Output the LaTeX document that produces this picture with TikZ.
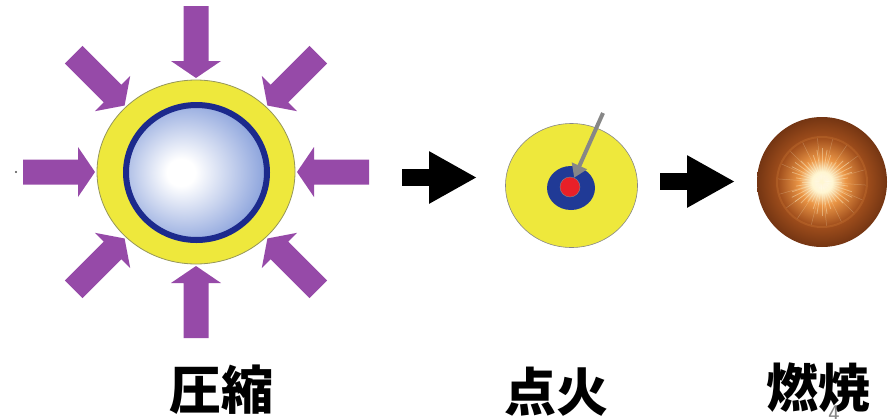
\documentclass[tikz,border=0pt]{standalone}
\usepackage{fontspec}
\newfontfamily\cjk{Noto Sans CJK JP}
\usepackage{tikz}
\usetikzlibrary{arrows.meta,shapes.geometric}
\definecolor{pushpurple}{RGB}{150,74,168}
\definecolor{shellyellow}{RGB}{238,232,60}
\definecolor{shelledge}{RGB}{150,150,90}
\definecolor{fuelblue}{RGB}{28,42,140}
\definecolor{fuelpale}{RGB}{200,211,238}
\definecolor{fuelmid}{RGB}{138,162,220}
\definecolor{fueledge}{RGB}{92,120,196}
\definecolor{fueldeep}{RGB}{58,84,172}
\definecolor{hotblue}{RGB}{32,58,150}
\definecolor{hotred}{RGB}{232,32,40}
\definecolor{sparkgray}{RGB}{135,135,135}
\definecolor{burnA}{RGB}{255,246,210}
\definecolor{burnB}{RGB}{235,150,70}
\definecolor{burnC}{RGB}{160,78,28}
\definecolor{burnD}{RGB}{100,44,15}
\definecolor{burnE}{RGB}{52,22,6}
\pgfdeclareradialshading{fuelball}{\pgfpoint{-6bp}{0bp}}{%
  color(0bp)=(white); color(5bp)=(white); color(16bp)=(fuelpale);
  color(28bp)=(fuelmid); color(40bp)=(fueledge); color(47bp)=(fueldeep);
  color(60bp)=(fueldeep)}
\pgfdeclareradialshading{burnball}{\pgfpointorigin}{%
  color(0bp)=(white); color(4bp)=(burnA); color(9bp)=(burnB);
  color(17bp)=(burnC); color(28bp)=(burnD); color(40bp)=(burnE);
  color(48bp)=(burnE); color(50bp)=(burnE!50!white); color(60bp)=(white)}
\tikzset{
  pusharrow/.style={fill=pushpurple},
  flowarrow/.style={
    line width=17pt,
    -{Triangle[length=48pt,width=49pt]},
    draw=black
  },
  sparkarrow/.style={
    line width=4pt,
    -{Triangle[length=13pt,width=16pt]},
    draw=sparkgray
  },
  ray/.style={draw=burnA, line width=0.8pt, opacity=0.4},
  steplabel/.style={font=\cjk\bfseries\fontsize{52}{52}\selectfont, inner sep=0pt}
}

\begin{document}
\begin{tikzpicture}[x=1pt,y=-1pt]
\useasboundingbox (0,0) rectangle (894,418);

% compression: shell, fuel and the eight pushing arrows
\node[ellipse, minimum width=198pt, minimum height=184pt, inner sep=0pt,
  fill=shellyellow, draw=shelledge, line width=0.8pt] (shell) at (196,172) {};
\node[ellipse, minimum width=141pt, minimum height=135pt, inner sep=0pt,
  shading=fuelball, draw=fuelblue, line width=6pt] (fuel) at (196.5,172.5) {};
\foreach \a in {0,45,...,315}
  \fill[pusharrow, shift={({196+101*cos(\a)},{172-94*sin(\a)})}, rotate=\a+180]
    (0,0) -- (-17,25) -- (-17,12.5) -- (-72,12.5) -- (-72,-12.5)
    -- (-17,-12.5) -- (-17,-25) -- cycle;
\fill[black!70] (16,172) circle (1.2);

% ignition target
\node[ellipse, minimum width=132pt, minimum height=124pt, inner sep=0pt,
  fill=shellyellow, draw=sparkgray, line width=0.6pt] (target) at (571.5,185.5) {};
\node[ellipse, minimum width=48pt, minimum height=44pt, inner sep=0pt,
  fill=hotblue] (hotspot) at (571,188) {};
\node[circle, minimum size=20pt, inner sep=0pt,
  fill=hotred, draw=sparkgray, line width=0.4pt] (core) at (570,187) {};
\coordinate (sparkstart) at (603,113);
\draw[sparkarrow] (sparkstart) -- (core);

% burning fuel
\node[circle, minimum size=130pt, inner sep=0pt, shading=burnball] (burn) at (822,182) {};
\foreach \a in {0,9,...,351}
  \draw[ray] (burn.center) -- ++(\a:{20+14*abs(sin(3*\a))});
\foreach \a in {4,24,...,344}
  \draw[ray, line width=0.5pt, opacity=0.25] (burn.center) -- ++(\a:44);
\draw[draw=burnB, opacity=0.2, line width=2pt] (burn.center) circle (45);

% stage arrows
\coordinate (go1s) at (402,177.5);
\coordinate (go1e) at (477,177.5);
\coordinate (go2s) at (660,181.5);
\coordinate (go2e) at (735,181.5);
\draw[flowarrow] (go1s) -- (go1e);
\draw[flowarrow] (go2s) -- (go2e);

% stage names
\node[steplabel] (presslabel) at (221,390) {圧縮};
\node[steplabel] (ignlabel) at (556,392) {点火};
\node[steplabel] (burnlabel) at (818,388) {燃焼};
\node[font=\sffamily\fontsize{24}{24}\selectfont, text=sparkgray, inner sep=0pt]
  (pagenum) at (834,414) {4};
\end{tikzpicture}
\end{document}
